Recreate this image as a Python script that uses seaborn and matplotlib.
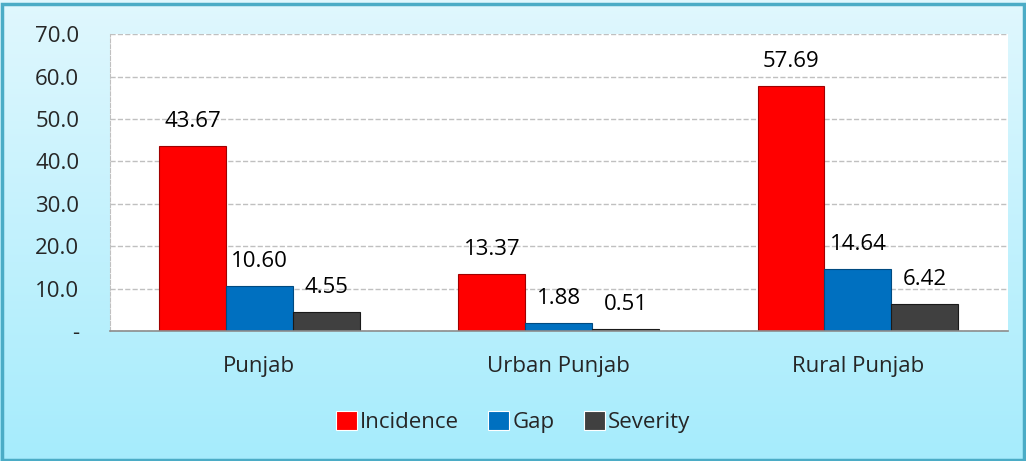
import numpy as np
import pandas as pd
import seaborn as sns
import matplotlib.pyplot as plt
from matplotlib.patches import Rectangle

regions = ['Punjab', 'Urban Punjab', 'Rural Punjab']
incidence = [43.67, 13.37, 57.69]
gap = [10.60, 1.88, 14.64]
severity = [4.55, 0.51, 6.42]
measures = ['Incidence', 'Gap', 'Severity']
colors = ['#ff0000', '#0070c0', '#404040']
edges = ['#a00000', '#004a80', '#1a1a1a']

df = pd.DataFrame({
    'region': regions * 3,
    'measure': np.repeat(measures, 3),
    'value': incidence + gap + severity,
})

sns.set_style('white')
plt.rcParams['font.family'] = ['Open Sans', 'DejaVu Sans']

fig = plt.figure(figsize=(10.26, 4.61), dpi=100)

# gradient background of the whole chart
bg = fig.add_axes([0, 0, 1, 1], zorder=-2)
grad = np.linspace(0, 1, 256).reshape(-1, 1)
top = np.array([0.88, 0.97, 0.995])
bot = np.array([0.65, 0.925, 0.99])
img = top + (bot - top) * grad[:, :, None]
bg.imshow(img, aspect='auto', extent=[0, 1, 0, 1])
bg.set_axis_off()
fig.patches.append(Rectangle((0.002, 0.002), 0.996, 0.99, transform=fig.transFigure,
                             fill=False, edgecolor='#4bacc6', linewidth=2.5, zorder=5))

ax = fig.add_axes([0.107, 0.282, 0.875, 0.644])
ax.set_facecolor('white')
sns.barplot(data=df, x='region', y='value', hue='measure', hue_order=measures,
            palette=colors, width=0.67, saturation=1, ax=ax,
            linewidth=0.8, legend=True)

for cont, ec in zip(ax.containers, edges):
    for p in cont.patches:
        p.set_edgecolor(ec)
    ax.bar_label(cont, labels=[f'{v:.2f}' for v in cont.datavalues],
                 padding=10, fontsize=16, color='black')

ax.set_ylim(0, 70)
ax.set_yticks(np.arange(0, 71, 10))
ax.set_yticklabels(['-'] + [f'{v:.1f}' for v in np.arange(10, 71, 10)], fontsize=16)
ax.set_xlim(-0.5, 2.5)
ax.tick_params(axis='x', which='major', length=0, labelsize=16, pad=18)
ax.set_xticks([-0.5, 0.5, 1.5, 2.5], minor=True)
ax.tick_params(axis='x', which='minor', length=7, color='#8c8c8c', width=1)
ax.tick_params(axis='y', length=7, color='#c0c0c0', pad=15)
ax.set_xlabel('')
ax.set_ylabel('')
ax.yaxis.grid(True, linestyle='--', color='#c0c0c0', linewidth=1)
ax.set_axisbelow(True)
for s in ['top', 'right']:
    ax.spines[s].set_visible(False)
ax.spines['left'].set_linestyle('--')
ax.spines['left'].set_color('#c0c0c0')
ax.spines['bottom'].set_color('#8c8c8c')
ax.spines['bottom'].set_linewidth(1.2)

handles, labels = ax.get_legend_handles_labels()
ax.get_legend().remove()
fig.legend(handles, labels, loc='center', bbox_to_anchor=(0.5, 0.085), ncol=3,
           frameon=False, fontsize=16, handlelength=0.95, handleheight=0.95,
           handletextpad=0.15, columnspacing=1.3)

fig.savefig('out.png', dpi=100)
